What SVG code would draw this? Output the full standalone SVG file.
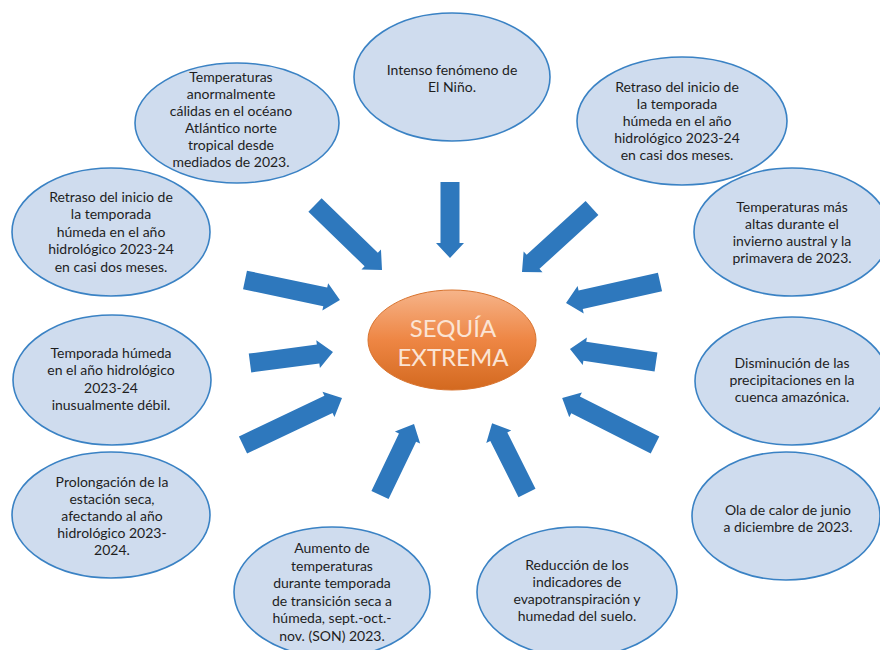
<svg xmlns="http://www.w3.org/2000/svg" width="880" height="650" viewBox="0 0 880 650">
<defs>
<linearGradient id="og" x1="0" y1="0" x2="0" y2="1">
<stop offset="0" stop-color="#f6b48a"/>
<stop offset="0.5" stop-color="#ee8644"/>
<stop offset="1" stop-color="#d3691f"/>
</linearGradient>
<style>
.n{fill:#cfdcee;stroke:#3a82c4;stroke-width:1.6}
.t{font-family:Lato,"Liberation Sans",sans-serif;font-size:14px;fill:#1e1e1e;text-anchor:middle}
.c{font-family:Lato,"Liberation Sans",sans-serif;font-size:24px;fill:#fbe4d4;text-anchor:middle}
.a{fill:#2e78bd}
</style>
</defs>
<rect width="880" height="650" fill="#ffffff"/>
<g id="connectors">
<polygon class="a" transform="translate(315,205) rotate(44.1)" points="0,-9.5 78.3,-9.5 78.3,-14 93.3,0 78.3,14 78.3,9.5 0,9.5"/>
<polygon class="a" transform="translate(450,182) rotate(90)" points="0,-9.5 61,-9.5 61,-14 76,0 61,14 61,9.5 0,9.5"/>
<polygon class="a" transform="translate(592,208) rotate(137.6)" points="0,-9.5 79.8,-9.5 79.8,-14 94.8,0 79.8,14 79.8,9.5 0,9.5"/>
<polygon class="a" transform="translate(660,282) rotate(167.4)" points="0,-9.5 81.3,-9.5 81.3,-14 96.3,0 81.3,14 81.3,9.5 0,9.5"/>
<polygon class="a" transform="translate(656,362) rotate(188.6)" points="0,-9.5 72,-9.5 72,-14 87,0 72,14 72,9.5 0,9.5"/>
<polygon class="a" transform="translate(655,445) rotate(206.8)" points="0,-9.5 89,-9.5 89,-14 104,0 89,14 89,9.5 0,9.5"/>
<polygon class="a" transform="translate(527,493) rotate(243.4)" points="0,-9.5 63,-9.5 63,-14 78,0 63,14 63,9.5 0,9.5"/>
<polygon class="a" transform="translate(380,495) rotate(-64.4)" points="0,-9.5 63.7,-9.5 63.7,-14 78.7,0 63.7,14 63.7,9.5 0,9.5"/>
<polygon class="a" transform="translate(243,445) rotate(-25.4)" points="0,-9.5 94.6,-9.5 94.6,-14 109.6,0 94.6,14 94.6,9.5 0,9.5"/>
<polygon class="a" transform="translate(250,363) rotate(-7.5)" points="0,-9.5 68.7,-9.5 68.7,-14 83.7,0 68.7,14 68.7,9.5 0,9.5"/>
<polygon class="a" transform="translate(245,280) rotate(11.9)" points="0,-9.5 82,-9.5 82,-14 97,0 82,14 82,9.5 0,9.5"/>
</g>
<g id="center">
<ellipse cx="452" cy="340" rx="84" ry="50" fill="url(#og)" stroke="#d8732e" stroke-width="1"/>
<text class="c" x="453" y="337">SEQUÍA</text>
<text class="c" x="453" y="366">EXTREMA</text>
</g>
<g id="n1">
<ellipse class="n" cx="452" cy="77" rx="98" ry="64"/>
<text class="t" x="452" y="75">Intenso fenómeno de</text>
<text class="t" x="452" y="92">El Niño.</text>
</g>
<g id="n2">
<ellipse class="n" cx="237" cy="123" rx="102" ry="60"/>
<text class="t" x="231" y="82">Temperaturas</text>
<text class="t" x="231" y="99">anormalmente</text>
<text class="t" x="231" y="116">cálidas en el océano</text>
<text class="t" x="231" y="133">Atlántico norte</text>
<text class="t" x="231" y="150">tropical desde</text>
<text class="t" x="231" y="167">mediados de 2023.</text>
</g>
<g id="n3">
<ellipse class="n" cx="682" cy="121" rx="105" ry="64"/>
<text class="t" x="677" y="92">Retraso del inicio de</text>
<text class="t" x="677" y="109">la temporada</text>
<text class="t" x="677" y="126">húmeda en el año</text>
<text class="t" x="677" y="143">hidrológico 2023-24</text>
<text class="t" x="677" y="160">en casi dos meses.</text>
</g>
<g id="n4">
<ellipse class="n" cx="792" cy="232" rx="98" ry="64"/>
<text class="t" x="792" y="212">Temperaturas más</text>
<text class="t" x="792" y="229">altas durante el</text>
<text class="t" x="792" y="246">invierno austral y la</text>
<text class="t" x="792" y="263">primavera de 2023.</text>
</g>
<g id="n5">
<ellipse class="n" cx="792" cy="381" rx="97" ry="64"/>
<text class="t" x="792" y="368">Disminución de las</text>
<text class="t" x="792" y="385">precipitaciones en la</text>
<text class="t" x="792" y="402">cuenca amazónica.</text>
</g>
<g id="n6">
<ellipse class="n" cx="786" cy="516" rx="94" ry="64"/>
<text class="t" x="788" y="515">Ola de calor de junio</text>
<text class="t" x="788" y="532">a diciembre de 2023.</text>
</g>
<g id="n7">
<ellipse class="n" cx="577" cy="592" rx="100" ry="65"/>
<text class="t" x="577" y="570">Reducción de los</text>
<text class="t" x="577" y="587">indicadores de</text>
<text class="t" x="577" y="604">evapotranspiración y</text>
<text class="t" x="577" y="621">humedad del suelo.</text>
</g>
<g id="n8">
<ellipse class="n" cx="332" cy="592" rx="98" ry="65"/>
<text class="t" x="332" y="553">Aumento de</text>
<text class="t" x="332" y="570.6">temperaturas</text>
<text class="t" x="332" y="588.2">durante temporada</text>
<text class="t" x="332" y="605.8">de transición seca a</text>
<text class="t" x="332" y="623.4">húmeda, sept.-oct.-</text>
<text class="t" x="332" y="641">nov. (SON) 2023.</text>
</g>
<g id="n9">
<ellipse class="n" cx="111" cy="515" rx="99" ry="63"/>
<text class="t" x="112" y="487">Prolongación de la</text>
<text class="t" x="112" y="504">estación seca,</text>
<text class="t" x="112" y="521">afectando al año</text>
<text class="t" x="112" y="538">hidrológico 2023-</text>
<text class="t" x="112" y="555">2024.</text>
</g>
<g id="n10">
<ellipse class="n" cx="112" cy="380" rx="99" ry="65"/>
<text class="t" x="111" y="358">Temporada húmeda</text>
<text class="t" x="111" y="375">en el año hidrológico</text>
<text class="t" x="111" y="393">2023-24</text>
<text class="t" x="111" y="410">inusualmente débil.</text>
</g>
<g id="n11">
<ellipse class="n" cx="111" cy="232" rx="99" ry="64"/>
<text class="t" x="111" y="202">Retraso del inicio de</text>
<text class="t" x="111" y="219">la temporada</text>
<text class="t" x="111" y="237">húmeda en el año</text>
<text class="t" x="111" y="254">hidrológico 2023-24</text>
<text class="t" x="111" y="272">en casi dos meses.</text>
</g>
</svg>
